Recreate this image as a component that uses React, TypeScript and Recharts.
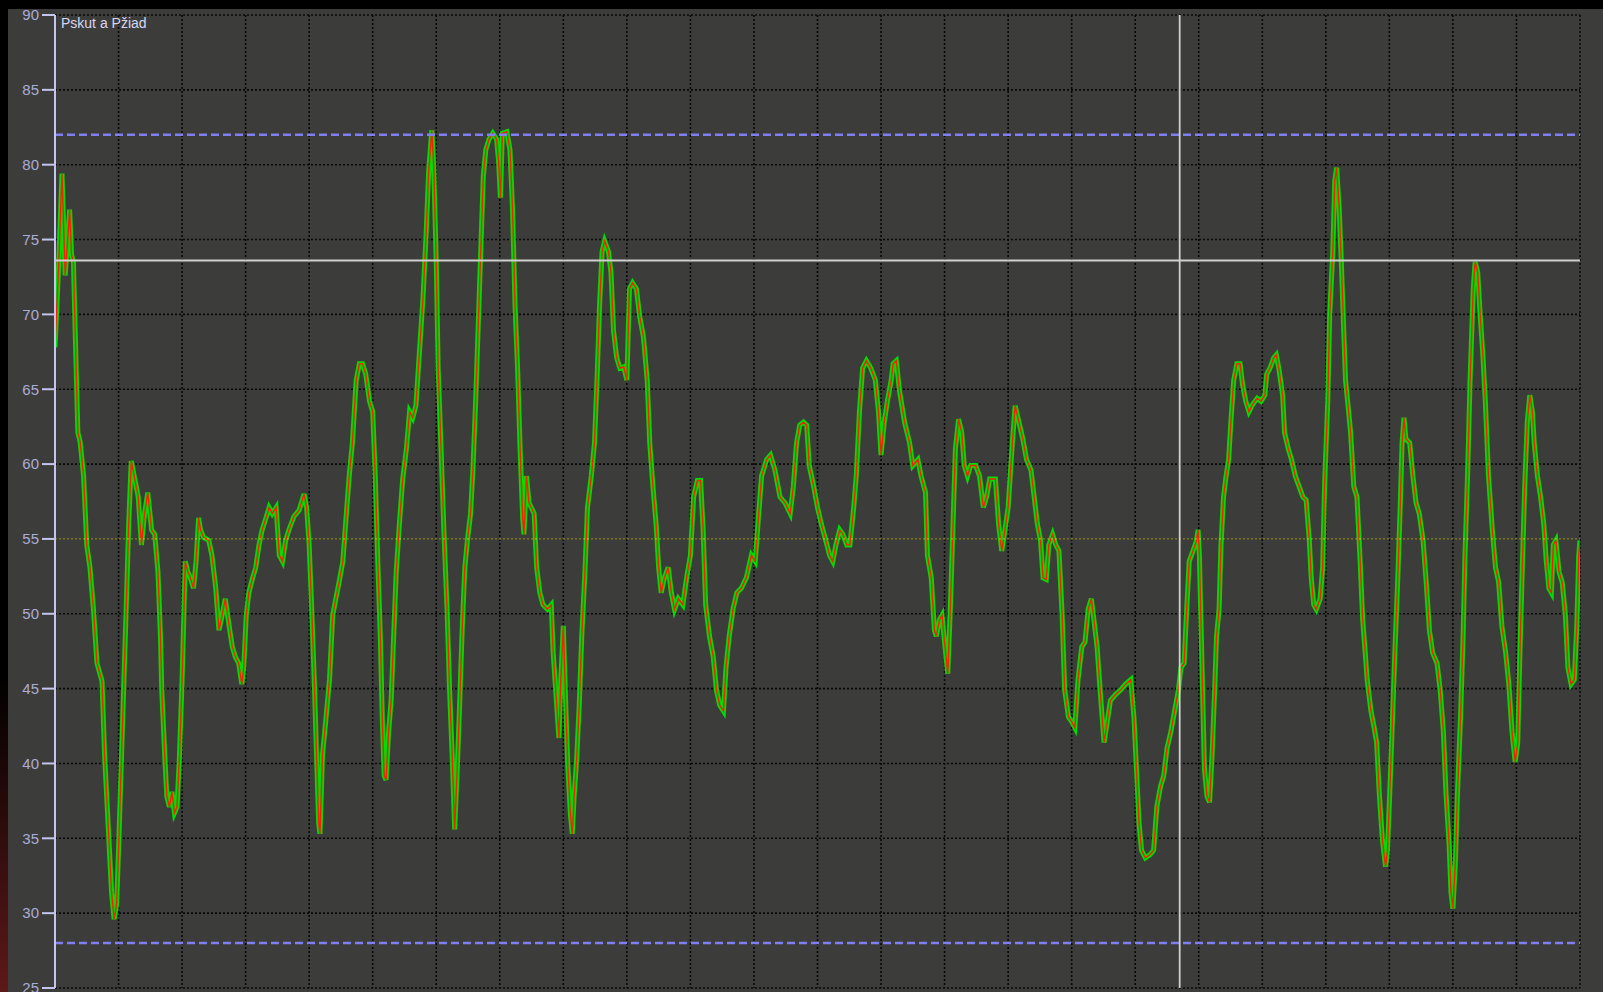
import React from 'react';
import { LineChart, Line, XAxis, YAxis, CartesianGrid, ReferenceLine } from 'recharts';

// bar positions (x) and the traced oscillator values
const barIndex = [
  0, 0.6, 1.1, 1.6, 2.0, 2.3, 2.6, 2.9, 3.2, 3.6, 3.95, 4.5, 5.0, 5.5, 6.05, 6.6, 7.4, 7.8, 8.4, 8.9,
  9.3, 9.7, 10.0, 10.4, 10.8, 11.2, 11.6, 12.0, 12.6, 13.1, 13.6, 14.1, 14.6, 15.2, 15.7, 16.2, 16.6, 16.8, 17.3, 17.6,
  18.0, 18.4, 18.8, 19.2, 19.6, 20.0, 20.3, 20.5, 20.9, 21.3, 21.8, 22.2, 22.6, 22.9, 23.4, 24.2, 24.7, 25.3, 25.8, 26.3,
  26.8, 27.4, 27.9, 28.4, 28.9, 29.4, 29.7, 30.1, 30.5, 31.1, 31.6, 32.1, 32.6, 33.2, 33.7, 34.2, 34.8, 35.3, 35.8, 36.3,
  36.8, 37.6, 38.4, 39.2, 39.6, 40.0, 40.4, 40.8, 41.1, 41.5, 41.7, 42.1, 42.6, 43.2, 43.7, 44.2, 44.7, 45.3, 45.8, 46.3,
  46.8, 47.4, 47.9, 48.4, 48.9, 49.5, 50.0, 50.4, 50.8, 51.2, 51.5, 51.8, 52.1, 52.5, 52.9, 53.3, 53.7, 54.2, 54.7, 55.3,
  55.8, 56.3, 56.8, 57.4, 57.9, 58.4, 58.8, 59.3, 59.6, 60.0, 60.3, 60.7, 61.2, 61.7, 62.1, 62.5, 62.9, 63.3, 63.7, 64.1,
  64.5, 64.9, 65.4, 65.8, 66.2, 66.6, 67.0, 67.4, 67.8, 68.3, 68.9, 69.5, 69.8, 70.1, 70.4, 71.1, 71.6, 72.0, 72.4, 72.8,
  73.2, 73.6, 73.8, 74.2, 74.6, 75.4, 75.8, 76.3, 76.8, 77.5, 78.1, 78.4, 78.8, 79.3, 79.6, 80.0, 80.3, 80.7, 81.1, 81.4,
  81.7, 82.1, 82.5, 82.9, 83.4, 83.8, 84.4, 84.9, 85.3, 85.7, 86.1, 86.5, 87.1, 87.5, 87.9, 88.4, 88.9, 89.5, 90.0, 90.4,
  90.9, 91.5, 92.0, 92.6, 93.2, 93.6, 94.1, 94.6, 95.0, 95.4, 95.9, 96.5, 97.0, 97.5, 98.1, 98.8, 99.4, 100.0, 100.5, 101.1,
  101.6, 102.0, 102.4, 103.0, 103.6, 104.1, 104.6, 105.2, 105.6, 106.1, 106.7, 107.3, 108.0, 108.8, 109.6, 110.2, 110.7, 111.2, 112.0, 112.6,
  113.3, 114.1, 114.9, 115.7, 116.2, 116.7, 117.2, 117.8, 118.3, 118.7, 119.4, 120.0, 120.6, 121.3, 121.9, 122.4, 122.9, 123.5, 124.0, 124.6,
  125.1, 125.7, 126.1, 126.6, 127.1, 127.7, 128.4, 129.1, 129.6, 130.0, 130.5, 131.0, 131.6, 131.9, 132.4, 132.9, 133.7, 134.5, 135.0, 135.8,
  136.3, 137.0, 137.3, 137.9, 138.4, 138.7, 139.2, 139.6, 139.9, 140.5, 140.9, 141.3, 141.7, 142.2, 142.7, 143.1, 143.6, 144.1, 144.9, 145.5,
  146.1, 146.6, 147.1, 148.0, 148.5, 149.0, 149.5, 150.0, 150.6, 151.1, 151.7, 152.3, 152.9, 153.6, 154.1, 154.6, 155.1, 155.5, 156.0, 156.4,
  157.0, 157.5, 158.0, 158.5, 158.9, 159.5, 160.0, 160.5, 161.0, 161.6, 162.1, 162.6, 163.1, 163.5, 164.0, 164.6, 165.1, 165.6, 166.1, 166.9,
  167.7, 168.5, 169.3, 169.8, 170.2, 170.6, 171.0, 171.6, 172.3, 172.9, 173.4, 174.0, 174.5, 175.0, 175.6, 176.2, 176.8, 177.2, 177.7, 178.1,
  178.5, 179.1, 179.6, 179.9, 180.1, 180.4, 180.6, 180.9, 181.3, 181.7, 182.1, 182.5, 182.8, 183.2, 183.5, 183.9, 184.3, 184.7, 185.1, 185.5,
  186.0, 186.5, 186.9, 187.4, 187.9, 188.5, 189.2, 189.8, 190.4, 190.7, 191.3, 191.8, 192.2, 192.6, 193.2, 193.5, 194.1, 194.6, 195.2, 195.8,
  196.4, 196.9, 197.4, 197.7, 198.1, 198.5, 199.1, 199.5, 199.8, 200.3, 200.6, 201.1, 201.4, 201.7, 202.1, 202.4, 202.7, 203.1, 203.5, 203.9,
  204.4, 204.9, 205.4, 205.8, 206.2, 206.5, 207.1, 207.6, 208.0, 208.4, 208.9, 209.4, 209.7, 210.1, 210.5, 210.9, 211.3, 211.7, 212.0, 212.3,
  212.6, 213.2, 213.7, 214.2, 214.7, 215.3, 215.8, 216.3, 216.8, 217.5, 218.0, 218.5, 218.9, 219.4, 219.7, 220.0, 220.4, 220.7, 221.2, 221.6,
  221.9, 222.3, 222.7, 223.2, 223.5, 223.9, 224.3, 224.7, 225.1, 225.6, 226.2, 226.7, 227.2, 227.7, 228.3, 228.8, 229.3, 229.8, 230.2, 230.5,
  230.9, 231.3, 231.7, 232.1, 232.5, 232.8, 233.3, 233.8, 234.3, 234.7, 235.1, 235.5, 235.8, 236.2, 236.7, 237.2, 237.7, 238.1, 238.6, 239.1,
  239.5, 239.8, 240.0,
];

const oscValues = [
  67.8, 73.5, 79.4, 72.6, 75.0, 77.0, 74.0, 73.5, 68.5, 62.1, 61.5, 59.2, 54.6, 53.1, 50.3, 46.7, 45.5, 40.6, 35.6, 31.4,
  29.6, 30.6, 34.2, 39.6, 44.9, 50.3, 56.0, 60.2, 58.9, 57.8, 54.6, 56.7, 58.1, 55.6, 55.3, 52.8, 48.5, 44.9, 40.3, 37.8,
  37.1, 38.1, 36.7, 37.1, 40.6, 45.6, 50.3, 53.5, 52.8, 52.4, 51.7, 53.5, 56.4, 55.6, 55.1, 54.9, 53.9, 51.7, 48.9, 49.9,
  51.0, 49.2, 47.8, 47.1, 46.7, 45.3, 46.4, 49.9, 51.4, 52.4, 53.1, 54.6, 55.6, 56.4, 57.1, 56.7, 57.1, 53.9, 53.5, 54.9,
  55.6, 56.5, 56.9, 58.0, 57.1, 54.6, 50.3, 45.6, 41.4, 36.0, 35.3, 40.6, 42.8, 45.6, 49.9, 51.0, 52.1, 53.5, 56.4, 59.2,
  61.4, 65.6, 66.7, 66.7, 66.0, 64.2, 63.5, 59.2, 53.5, 48.5, 43.1, 39.2, 38.9, 42.1, 44.2, 48.5, 52.8, 56.0, 58.9, 61.0,
  63.5, 63.1, 63.9, 67.8, 71.0, 75.3, 79.5, 82.3, 79.9, 73.5, 66.4, 61.7, 55.6, 50.3, 44.9, 40.6, 35.6, 39.6, 44.2, 49.2,
  53.1, 54.9, 56.7, 59.9, 64.2, 69.2, 74.2, 79.2, 81.0, 81.7, 82.1, 81.7, 80.3, 77.8, 82.1, 82.2, 81.0, 77.1, 70.6, 66.4,
  61.0, 56.4, 55.3, 59.2, 57.4, 56.7, 53.1, 51.4, 50.6, 50.3, 50.6, 47.4, 44.9, 41.7, 45.6, 49.2, 44.9, 39.9, 36.7, 35.3,
  37.8, 40.3, 43.9, 48.5, 52.8, 57.1, 59.2, 61.4, 65.6, 70.6, 74.2, 74.9, 74.2, 72.8, 68.9, 67.1, 66.4, 66.5, 65.6, 71.7,
  72.1, 71.7, 69.9, 68.5, 65.6, 61.4, 58.5, 56.0, 53.1, 51.4, 52.4, 53.1, 51.4, 50.3, 51.0, 50.6, 52.4, 53.9, 57.8, 58.9,
  58.9, 55.6, 50.6, 48.5, 47.1, 44.9, 43.9, 43.5, 46.4, 48.5, 50.3, 51.4, 51.7, 52.4, 53.9, 53.5, 56.4, 59.2, 60.3, 60.6,
  59.6, 57.8, 57.4, 56.7, 58.5, 61.4, 62.6, 62.8, 62.6, 59.9, 58.5, 57.1, 56.0, 54.9, 53.9, 53.5, 54.6, 55.6, 55.3, 54.6,
  54.6, 57.1, 59.2, 63.5, 66.4, 66.9, 66.4, 65.6, 63.5, 60.6, 62.8, 64.2, 65.6, 66.7, 66.9, 64.9, 62.8, 61.4, 59.9, 60.3,
  59.2, 58.1, 53.9, 52.4, 48.9, 48.5, 49.6, 49.9, 48.5, 46.0, 50.3, 55.6, 61.0, 63.0, 62.1, 59.9, 59.2, 59.9, 59.9, 59.2,
  57.1, 57.8, 59.0, 59.0, 56.0, 54.2, 55.6, 57.1, 61.0, 63.9, 62.8, 61.7, 60.3, 59.6, 57.8, 56.0, 54.9, 52.4, 52.3, 54.6,
  55.3, 54.6, 54.2, 49.9, 44.9, 43.1, 42.8, 42.4, 45.6, 47.8, 48.1, 50.3, 51.0, 49.6, 47.8, 44.2, 41.4, 42.8, 44.2, 44.6,
  44.9, 45.3, 45.6, 43.1, 39.6, 36.0, 34.2, 33.7, 33.9, 34.2, 37.1, 38.5, 39.2, 41.0, 42.1, 43.5, 44.9, 46.4, 46.7, 50.3,
  53.5, 54.2, 54.8, 55.6, 53.9, 48.5, 44.9, 39.6, 37.8, 37.4, 40.6, 44.9, 48.5, 50.3, 54.6, 57.8, 59.2, 60.3, 63.1, 65.6,
  66.7, 66.7, 65.3, 64.2, 63.5, 64.0, 64.4, 64.2, 64.6, 66.0, 66.5, 67.1, 67.3, 66.4, 64.6, 62.1, 61.0, 60.3, 59.2, 58.5,
  57.8, 57.6, 54.9, 52.4, 50.6, 50.3, 51.0, 53.1, 58.5, 64.2, 69.9, 74.2, 78.9, 79.8, 77.1, 73.9, 70.3, 65.6, 63.9, 62.1,
  58.5, 57.8, 53.5, 49.6, 47.4, 45.6, 43.5, 42.4, 41.4, 38.1, 34.9, 33.1, 34.2, 38.5, 43.1, 47.8, 52.1, 57.1, 61.4, 63.1,
  61.7, 61.4, 59.2, 57.4, 56.7, 54.9, 52.1, 48.9, 47.4, 46.7, 44.9, 42.1, 38.1, 34.6, 31.4, 30.3, 33.5, 37.8, 43.1, 48.5,
  53.9, 59.2, 65.6, 71.7, 73.5, 72.8, 69.9, 67.4, 64.2, 59.2, 55.6, 53.1, 52.1, 49.2, 47.4, 45.3, 42.1, 40.1, 41.4, 46.7,
  52.8, 58.5, 62.8, 64.6, 63.5, 61.4, 59.2, 57.8, 56.0, 53.5, 51.7, 51.4, 54.6, 54.9, 52.8, 52.1, 49.9, 46.4, 45.3, 45.6,
  49.2, 53.9, 54.9,
];

const yTicks = [25, 30, 35, 40, 45, 50, 55, 60, 65, 70, 75, 80, 85, 90];
const xGridTicks = [0, 10, 20, 30, 40, 50, 60, 70, 80, 90, 100, 110, 120, 130, 140, 150, 160, 170, 180, 190, 200, 210, 220, 230, 240];
const bandLevels = [82, 28];
const midLevel = 55;
const cursorValue = 73.6;
const cursorBar = 177;

const data = barIndex.map((bar, i) => ({ bar, raw: oscValues[i], avg: oscValues[i] }));

const App: React.FC = () => {
  return (
    <div style={{ position: 'fixed', left: 0, top: 0, width: 1603, height: 992, background: '#000', overflow: 'hidden' }}>
      <div style={{ position: 'absolute', left: 0, top: 0, width: 8, height: 992, background: 'linear-gradient(to bottom, #000 0%, #000 68%, #5e1818 100%)' }} />
      <div style={{ position: 'absolute', left: 8, top: 9, width: 1595, height: 983, background: '#3c3d3a' }}>
        <LineChart width={1595} height={983} data={data} margin={{ top: 6, right: 23, bottom: 4, left: 0 }}>
          <CartesianGrid stroke="#080808" strokeWidth={1.6} strokeDasharray="2 2" />
          <XAxis type="number" dataKey="bar" domain={[0, 240]} ticks={xGridTicks} hide allowDataOverflow />
          <YAxis
            type="number"
            domain={[25, 90]}
            ticks={yTicks}
            width={47}
            allowDataOverflow
            interval={0}
            axisLine={{ stroke: '#c4c4ee', strokeWidth: 2 }}
            tickLine={{ stroke: '#c4c4ee', strokeWidth: 2 }}
            tickSize={13}
            tickMargin={3}
            tick={{ fill: '#acacd6', fontSize: 15, fontFamily: 'Liberation Sans, Arial, sans-serif' }}
          />
          <Line type="linear" dataKey="raw" stroke="#00dd00" strokeWidth={5} dot={false} activeDot={false} isAnimationActive={false} />
          <Line type="linear" dataKey="avg" stroke="#ff1a0a" strokeWidth={1.4} dot={false} activeDot={false} isAnimationActive={false} />
          {bandLevels.map((lv) => (
            <ReferenceLine key={lv} y={lv} stroke="#7f7ff2" strokeWidth={2.5} strokeDasharray="8 4" />
          ))}
          <ReferenceLine y={midLevel} stroke="#c9c23e" strokeWidth={1} strokeDasharray="2 2" />
          <ReferenceLine y={cursorValue} stroke="#cfcfcf" strokeWidth={1.8} />
          <ReferenceLine x={cursorBar} stroke="#cfcfcf" strokeWidth={1.8} />
        </LineChart>
        <div style={{ position: 'absolute', left: 53, top: 6, fontFamily: 'Liberation Sans, Arial, sans-serif', fontSize: 14, lineHeight: '16px', color: '#d6d6f2' }}>
          Pskut a Pžiad
        </div>
      </div>
    </div>
  );
};

export default App;
